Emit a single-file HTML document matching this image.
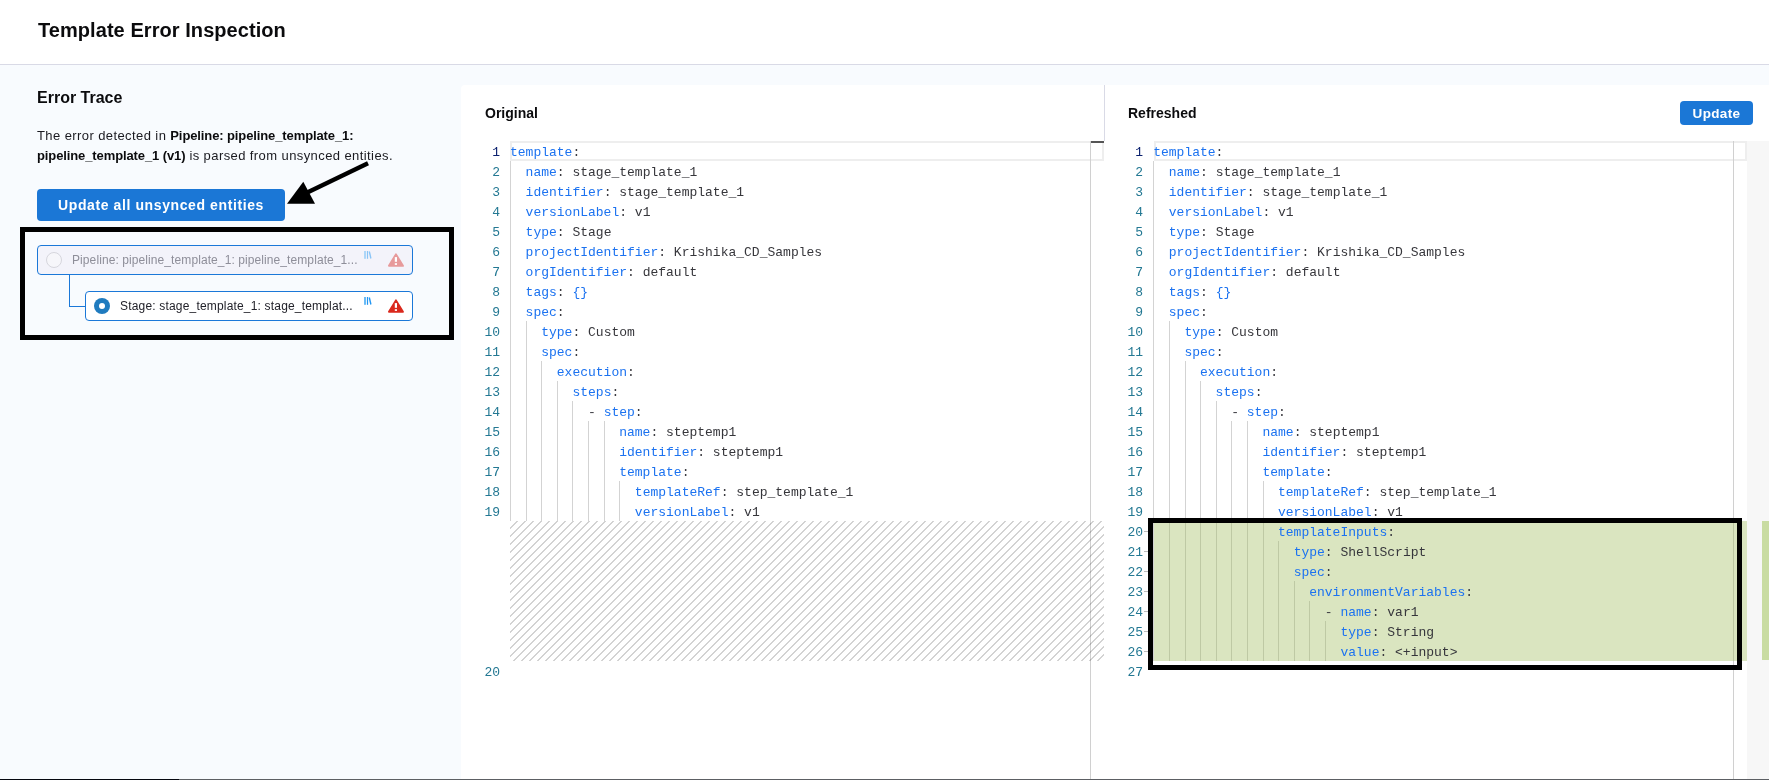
<!DOCTYPE html>
<html><head><meta charset="utf-8">
<style>
*{box-sizing:border-box;margin:0;padding:0}
html,body{width:1769px;height:780px;overflow:hidden}
body{position:relative;background:#f8fbfe;font-family:"Liberation Sans",sans-serif;color:#22222a}
.abs{position:absolute}
#hdr{position:absolute;left:0;top:0;width:1769px;height:65px;background:#fff;border-bottom:1px solid #d9dae6}
#title{position:absolute;left:38px;top:18px;font-size:20px;letter-spacing:0.06px;font-weight:bold;color:#0b0b0d;white-space:nowrap;line-height:24px}
#et{position:absolute;left:37px;top:88px;font-size:16px;font-weight:bold;color:#0b0b0d;line-height:20px;white-space:nowrap}
#desc{position:absolute;left:37px;top:126px;font-size:13px;line-height:20px;color:#1a1a20;white-space:nowrap;letter-spacing:0.41px}
#desc b{color:#0b0b0d;letter-spacing:-0.11px}
#btn1{position:absolute;left:37px;top:189px;width:248px;height:32px;background:#1b77d6;border-radius:4px;color:#fff;font-weight:bold;font-size:14px;line-height:32px;text-align:center;white-space:nowrap;letter-spacing:0.6px}
#bx1{position:absolute;left:20px;top:226.5px;width:434px;height:113px;border:5px solid #000}
.card{position:absolute;height:30px;border:1px solid #1b78d8;border-radius:4px;white-space:nowrap;font-size:12px;line-height:28px}
#c1{left:37px;top:245px;width:376px;background:#f3f3fa;color:#8e8e99}
#c2{left:85px;top:291px;width:328px;background:#fff;color:#22222a}
.conn{position:absolute;background:#1b78d8}
#pnl1{position:absolute;left:461px;top:85px;width:644px;height:695px;background:#fff;border-top-left-radius:4px}
#pnl2{position:absolute;left:1105px;top:85px;width:664px;height:695px;background:#fff}
#div{position:absolute;left:1104px;top:85px;width:1px;height:56px;background:#d9dae6}
.ph{position:absolute;top:104px;font-size:14px;font-weight:bold;color:#0b0b0d;line-height:18px;white-space:nowrap}
#btn2{position:absolute;left:1680px;top:101px;width:73px;height:24px;background:#1b77d6;border-radius:4px;color:#fff;font-weight:bold;font-size:13.5px;line-height:26px;text-align:center;letter-spacing:0.35px;overflow:hidden}
.ln{position:absolute;width:40px;text-align:right;font-family:"Liberation Mono",monospace;font-size:13px;line-height:20px;color:#237893}
.ln.act{color:#0b216f}
.cl{position:absolute;font-family:"Liberation Mono",monospace;font-size:13px;line-height:20px;white-space:pre;color:#36363b}
.k{color:#1b72f0}
.p{color:#3a3a40}
.v{color:#36363b}
.b{color:#1b72f0}
.g{position:absolute;width:1px;background:#d3d3d3}
.curl{position:absolute;top:141px;height:20px;border:2px solid #eeeeee}
.vr{position:absolute;top:141px;width:1px;height:639px;background:#d0d0d0}
#hatch{position:absolute;left:510px;top:521px;width:594px;height:140px;background:linear-gradient(-45deg,rgba(34,34,34,.2) 12.5%,#0000 12.5%,#0000 50%,rgba(34,34,34,.2) 50%,rgba(34,34,34,.2) 62.5%,#0000 62.5%,#0000 100%);background-size:8px 8px}
#green{position:absolute;left:1154px;top:521px;width:593px;height:140px;background:rgba(155,185,85,.37)}
#ovr{position:absolute;left:1747px;top:141px;width:22px;height:639px;background:#f7f7f7}
#ovg{position:absolute;left:1762px;top:521px;width:7px;height:139px;background:#c9dca2}
#bx2{position:absolute;left:1148px;top:518px;width:594px;height:152px;border:5px solid #000}
.dash{position:absolute;left:1144px;width:5px;height:1px;background:#bbb}
#botline{position:absolute;left:0;top:779px;width:1769px;height:1px;background:#5c5f63}
#botline2{position:absolute;left:0;top:779px;width:179px;height:1px;background:#05070f}
</style></head><body>
<div id="root" style="position:absolute;left:0;top:0;width:1769px;height:780px;background:#f8fbfe;will-change:transform">
<div id="hdr"></div>
<div id="title">Template Error Inspection</div>
<div id="et">Error Trace</div>
<div id="desc">The error detected in <b>Pipeline: pipeline_template_1:</b><br><b>pipeline_template_1 (v1)</b> is parsed from unsynced entities.</div>
<div id="btn1">Update all unsynced entities</div>
<svg class="abs" style="left:280px;top:155px" width="100" height="60" viewBox="280 155 100 60">
<line x1="368" y1="163.3" x2="300" y2="196" stroke="#000" stroke-width="4.3"/>
<polygon points="287,203.8 303.3,181.7 315,203.8" fill="#000"/>
</svg>
<div id="bx1"></div>
<div class="card" id="c1"><span class="abs" style="left:8px;top:6px;width:16px;height:16px;border-radius:50%;border:1px solid #d6d6dd;background:#f6f6fa"></span><span class="abs" style="left:34px;top:0;letter-spacing:0.09px">Pipeline: pipeline_template_1: pipeline_template_1...</span>
<svg class="abs" style="left:326px;top:4px;opacity:.5" width="10" height="10" viewBox="0 0 10 10"><rect x="0.1" y="1" width="1.8" height="7.8" fill="#5ab4f5"/><rect x="2.9" y="1" width="1.2" height="7.8" fill="#2196f3"/><line x1="5.3" y1="1.5" x2="6.9" y2="8.5" stroke="#2196f3" stroke-width="1.4"/></svg>
<svg class="abs" style="left:350px;top:6px" width="17" height="16" viewBox="0 0 17 16"><path d="M7.95 2.4 L14.9 13.8 L1 13.8 Z" fill="#e79a9b" stroke="#e79a9b" stroke-width="2" stroke-linejoin="round"/><rect x="6.8" y="5.1" width="2.2" height="4.7" fill="#fff"/><rect x="6.8" y="11.2" width="2.2" height="1.7" fill="#fff"/></svg>
</div>
<div class="conn" style="left:69px;top:275px;width:1px;height:32px"></div>
<div class="conn" style="left:69px;top:306px;width:16px;height:1px"></div>
<div class="card" id="c2"><span class="abs" style="left:8px;top:6px;width:16px;height:16px;border-radius:50%;background:#1f7bbf"></span><span class="abs" style="left:13px;top:11px;width:6px;height:6px;border-radius:50%;background:#fff"></span><span class="abs" style="left:34px;top:0;letter-spacing:0.18px">Stage: stage_template_1: stage_templat...</span>
<svg class="abs" style="left:278px;top:4px" width="10" height="10" viewBox="0 0 10 10"><rect x="0.1" y="1" width="1.8" height="7.8" fill="#5ab4f5"/><rect x="2.9" y="1" width="1.2" height="7.8" fill="#2196f3"/><line x1="5.3" y1="1.5" x2="6.9" y2="8.5" stroke="#2196f3" stroke-width="1.4"/></svg>
<svg class="abs" style="left:302px;top:6px" width="17" height="16" viewBox="0 0 17 16"><path d="M7.95 2.4 L14.9 13.8 L1 13.8 Z" fill="#da291d" stroke="#da291d" stroke-width="2" stroke-linejoin="round"/><rect x="6.8" y="5.1" width="2.2" height="4.7" fill="#fff"/><rect x="6.8" y="11.2" width="2.2" height="1.7" fill="#fff"/></svg>
</div>

<div id="pnl1"></div>
<div id="pnl2"></div>
<div id="div"></div>
<div class="ph" style="left:485px">Original</div>
<div class="ph" style="left:1128px">Refreshed</div>
<div id="btn2">Update</div>

<!-- original editor -->
<div class="curl" style="left:510px;width:594px"></div>
<div class="vr" style="left:1090px"></div>
<div class="abs" style="left:1091px;top:141px;width:13px;height:2px;background:#555"></div>
<div class="g" style="left:510.0px;top:161px;height:360px"></div>
<div class="g" style="left:525.6px;top:321px;height:200px"></div>
<div class="g" style="left:541.2px;top:361px;height:160px"></div>
<div class="g" style="left:556.8px;top:381px;height:140px"></div>
<div class="g" style="left:572.4px;top:401px;height:120px"></div>
<div class="g" style="left:588.0px;top:421px;height:100px"></div>
<div class="g" style="left:603.6px;top:421px;height:100px"></div>
<div class="g" style="left:619.2px;top:481px;height:40px"></div>
<div id="hatch"></div>
<div class="ln act" style="top:143px;left:460px">1</div>
<div class="cl" style="top:143px;left:510.0px"><span class="k">template</span><span class="p">:</span></div>
<div class="ln" style="top:163px;left:460px">2</div>
<div class="cl" style="top:163px;left:510.0px">&nbsp;&nbsp;<span class="k">name</span><span class="p">:</span> <span class="v">stage_template_1</span></div>
<div class="ln" style="top:183px;left:460px">3</div>
<div class="cl" style="top:183px;left:510.0px">&nbsp;&nbsp;<span class="k">identifier</span><span class="p">:</span> <span class="v">stage_template_1</span></div>
<div class="ln" style="top:203px;left:460px">4</div>
<div class="cl" style="top:203px;left:510.0px">&nbsp;&nbsp;<span class="k">versionLabel</span><span class="p">:</span> <span class="v">v1</span></div>
<div class="ln" style="top:223px;left:460px">5</div>
<div class="cl" style="top:223px;left:510.0px">&nbsp;&nbsp;<span class="k">type</span><span class="p">:</span> <span class="v">Stage</span></div>
<div class="ln" style="top:243px;left:460px">6</div>
<div class="cl" style="top:243px;left:510.0px">&nbsp;&nbsp;<span class="k">projectIdentifier</span><span class="p">:</span> <span class="v">Krishika_CD_Samples</span></div>
<div class="ln" style="top:263px;left:460px">7</div>
<div class="cl" style="top:263px;left:510.0px">&nbsp;&nbsp;<span class="k">orgIdentifier</span><span class="p">:</span> <span class="v">default</span></div>
<div class="ln" style="top:283px;left:460px">8</div>
<div class="cl" style="top:283px;left:510.0px">&nbsp;&nbsp;<span class="k">tags</span><span class="p">:</span> <span class="b">{}</span></div>
<div class="ln" style="top:303px;left:460px">9</div>
<div class="cl" style="top:303px;left:510.0px">&nbsp;&nbsp;<span class="k">spec</span><span class="p">:</span></div>
<div class="ln" style="top:323px;left:460px">10</div>
<div class="cl" style="top:323px;left:510.0px">&nbsp;&nbsp;&nbsp;&nbsp;<span class="k">type</span><span class="p">:</span> <span class="v">Custom</span></div>
<div class="ln" style="top:343px;left:460px">11</div>
<div class="cl" style="top:343px;left:510.0px">&nbsp;&nbsp;&nbsp;&nbsp;<span class="k">spec</span><span class="p">:</span></div>
<div class="ln" style="top:363px;left:460px">12</div>
<div class="cl" style="top:363px;left:510.0px">&nbsp;&nbsp;&nbsp;&nbsp;&nbsp;&nbsp;<span class="k">execution</span><span class="p">:</span></div>
<div class="ln" style="top:383px;left:460px">13</div>
<div class="cl" style="top:383px;left:510.0px">&nbsp;&nbsp;&nbsp;&nbsp;&nbsp;&nbsp;&nbsp;&nbsp;<span class="k">steps</span><span class="p">:</span></div>
<div class="ln" style="top:403px;left:460px">14</div>
<div class="cl" style="top:403px;left:510.0px">&nbsp;&nbsp;&nbsp;&nbsp;&nbsp;&nbsp;&nbsp;&nbsp;&nbsp;&nbsp;<span class="p">- </span><span class="k">step</span><span class="p">:</span></div>
<div class="ln" style="top:423px;left:460px">15</div>
<div class="cl" style="top:423px;left:510.0px">&nbsp;&nbsp;&nbsp;&nbsp;&nbsp;&nbsp;&nbsp;&nbsp;&nbsp;&nbsp;&nbsp;&nbsp;&nbsp;&nbsp;<span class="k">name</span><span class="p">:</span> <span class="v">steptemp1</span></div>
<div class="ln" style="top:443px;left:460px">16</div>
<div class="cl" style="top:443px;left:510.0px">&nbsp;&nbsp;&nbsp;&nbsp;&nbsp;&nbsp;&nbsp;&nbsp;&nbsp;&nbsp;&nbsp;&nbsp;&nbsp;&nbsp;<span class="k">identifier</span><span class="p">:</span> <span class="v">steptemp1</span></div>
<div class="ln" style="top:463px;left:460px">17</div>
<div class="cl" style="top:463px;left:510.0px">&nbsp;&nbsp;&nbsp;&nbsp;&nbsp;&nbsp;&nbsp;&nbsp;&nbsp;&nbsp;&nbsp;&nbsp;&nbsp;&nbsp;<span class="k">template</span><span class="p">:</span></div>
<div class="ln" style="top:483px;left:460px">18</div>
<div class="cl" style="top:483px;left:510.0px">&nbsp;&nbsp;&nbsp;&nbsp;&nbsp;&nbsp;&nbsp;&nbsp;&nbsp;&nbsp;&nbsp;&nbsp;&nbsp;&nbsp;&nbsp;&nbsp;<span class="k">templateRef</span><span class="p">:</span> <span class="v">step_template_1</span></div>
<div class="ln" style="top:503px;left:460px">19</div>
<div class="cl" style="top:503px;left:510.0px">&nbsp;&nbsp;&nbsp;&nbsp;&nbsp;&nbsp;&nbsp;&nbsp;&nbsp;&nbsp;&nbsp;&nbsp;&nbsp;&nbsp;&nbsp;&nbsp;<span class="k">versionLabel</span><span class="p">:</span> <span class="v">v1</span></div>
<div class="ln" style="top:663px;left:460px">20</div>

<!-- refreshed editor -->
<div id="ovr"></div>
<div class="curl" style="left:1154px;width:593px"></div>
<div class="vr" style="left:1733px"></div>
<div class="g" style="left:1153.4px;top:161px;height:500px"></div>
<div class="g" style="left:1169.0px;top:321px;height:340px"></div>
<div class="g" style="left:1184.6px;top:361px;height:300px"></div>
<div class="g" style="left:1200.2px;top:381px;height:280px"></div>
<div class="g" style="left:1215.8px;top:401px;height:260px"></div>
<div class="g" style="left:1231.4px;top:421px;height:240px"></div>
<div class="g" style="left:1247.0px;top:421px;height:240px"></div>
<div class="g" style="left:1262.6px;top:481px;height:180px"></div>
<div class="g" style="left:1278.2px;top:541px;height:120px"></div>
<div class="g" style="left:1293.8px;top:581px;height:80px"></div>
<div class="g" style="left:1309.4px;top:601px;height:60px"></div>
<div class="g" style="left:1325.0px;top:621px;height:40px"></div>
<div id="green"></div>
<div class="ln act" style="top:143px;left:1103px">1</div>
<div class="cl" style="top:143px;left:1153.2px"><span class="k">template</span><span class="p">:</span></div>
<div class="ln" style="top:163px;left:1103px">2</div>
<div class="cl" style="top:163px;left:1153.2px">&nbsp;&nbsp;<span class="k">name</span><span class="p">:</span> <span class="v">stage_template_1</span></div>
<div class="ln" style="top:183px;left:1103px">3</div>
<div class="cl" style="top:183px;left:1153.2px">&nbsp;&nbsp;<span class="k">identifier</span><span class="p">:</span> <span class="v">stage_template_1</span></div>
<div class="ln" style="top:203px;left:1103px">4</div>
<div class="cl" style="top:203px;left:1153.2px">&nbsp;&nbsp;<span class="k">versionLabel</span><span class="p">:</span> <span class="v">v1</span></div>
<div class="ln" style="top:223px;left:1103px">5</div>
<div class="cl" style="top:223px;left:1153.2px">&nbsp;&nbsp;<span class="k">type</span><span class="p">:</span> <span class="v">Stage</span></div>
<div class="ln" style="top:243px;left:1103px">6</div>
<div class="cl" style="top:243px;left:1153.2px">&nbsp;&nbsp;<span class="k">projectIdentifier</span><span class="p">:</span> <span class="v">Krishika_CD_Samples</span></div>
<div class="ln" style="top:263px;left:1103px">7</div>
<div class="cl" style="top:263px;left:1153.2px">&nbsp;&nbsp;<span class="k">orgIdentifier</span><span class="p">:</span> <span class="v">default</span></div>
<div class="ln" style="top:283px;left:1103px">8</div>
<div class="cl" style="top:283px;left:1153.2px">&nbsp;&nbsp;<span class="k">tags</span><span class="p">:</span> <span class="b">{}</span></div>
<div class="ln" style="top:303px;left:1103px">9</div>
<div class="cl" style="top:303px;left:1153.2px">&nbsp;&nbsp;<span class="k">spec</span><span class="p">:</span></div>
<div class="ln" style="top:323px;left:1103px">10</div>
<div class="cl" style="top:323px;left:1153.2px">&nbsp;&nbsp;&nbsp;&nbsp;<span class="k">type</span><span class="p">:</span> <span class="v">Custom</span></div>
<div class="ln" style="top:343px;left:1103px">11</div>
<div class="cl" style="top:343px;left:1153.2px">&nbsp;&nbsp;&nbsp;&nbsp;<span class="k">spec</span><span class="p">:</span></div>
<div class="ln" style="top:363px;left:1103px">12</div>
<div class="cl" style="top:363px;left:1153.2px">&nbsp;&nbsp;&nbsp;&nbsp;&nbsp;&nbsp;<span class="k">execution</span><span class="p">:</span></div>
<div class="ln" style="top:383px;left:1103px">13</div>
<div class="cl" style="top:383px;left:1153.2px">&nbsp;&nbsp;&nbsp;&nbsp;&nbsp;&nbsp;&nbsp;&nbsp;<span class="k">steps</span><span class="p">:</span></div>
<div class="ln" style="top:403px;left:1103px">14</div>
<div class="cl" style="top:403px;left:1153.2px">&nbsp;&nbsp;&nbsp;&nbsp;&nbsp;&nbsp;&nbsp;&nbsp;&nbsp;&nbsp;<span class="p">- </span><span class="k">step</span><span class="p">:</span></div>
<div class="ln" style="top:423px;left:1103px">15</div>
<div class="cl" style="top:423px;left:1153.2px">&nbsp;&nbsp;&nbsp;&nbsp;&nbsp;&nbsp;&nbsp;&nbsp;&nbsp;&nbsp;&nbsp;&nbsp;&nbsp;&nbsp;<span class="k">name</span><span class="p">:</span> <span class="v">steptemp1</span></div>
<div class="ln" style="top:443px;left:1103px">16</div>
<div class="cl" style="top:443px;left:1153.2px">&nbsp;&nbsp;&nbsp;&nbsp;&nbsp;&nbsp;&nbsp;&nbsp;&nbsp;&nbsp;&nbsp;&nbsp;&nbsp;&nbsp;<span class="k">identifier</span><span class="p">:</span> <span class="v">steptemp1</span></div>
<div class="ln" style="top:463px;left:1103px">17</div>
<div class="cl" style="top:463px;left:1153.2px">&nbsp;&nbsp;&nbsp;&nbsp;&nbsp;&nbsp;&nbsp;&nbsp;&nbsp;&nbsp;&nbsp;&nbsp;&nbsp;&nbsp;<span class="k">template</span><span class="p">:</span></div>
<div class="ln" style="top:483px;left:1103px">18</div>
<div class="cl" style="top:483px;left:1153.2px">&nbsp;&nbsp;&nbsp;&nbsp;&nbsp;&nbsp;&nbsp;&nbsp;&nbsp;&nbsp;&nbsp;&nbsp;&nbsp;&nbsp;&nbsp;&nbsp;<span class="k">templateRef</span><span class="p">:</span> <span class="v">step_template_1</span></div>
<div class="ln" style="top:503px;left:1103px">19</div>
<div class="cl" style="top:503px;left:1153.2px">&nbsp;&nbsp;&nbsp;&nbsp;&nbsp;&nbsp;&nbsp;&nbsp;&nbsp;&nbsp;&nbsp;&nbsp;&nbsp;&nbsp;&nbsp;&nbsp;<span class="k">versionLabel</span><span class="p">:</span> <span class="v">v1</span></div>
<div class="ln" style="top:523px;left:1103px">20</div>
<div class="cl" style="top:523px;left:1153.2px">&nbsp;&nbsp;&nbsp;&nbsp;&nbsp;&nbsp;&nbsp;&nbsp;&nbsp;&nbsp;&nbsp;&nbsp;&nbsp;&nbsp;&nbsp;&nbsp;<span class="k">templateInputs</span><span class="p">:</span></div>
<div class="ln" style="top:543px;left:1103px">21</div>
<div class="cl" style="top:543px;left:1153.2px">&nbsp;&nbsp;&nbsp;&nbsp;&nbsp;&nbsp;&nbsp;&nbsp;&nbsp;&nbsp;&nbsp;&nbsp;&nbsp;&nbsp;&nbsp;&nbsp;&nbsp;&nbsp;<span class="k">type</span><span class="p">:</span> <span class="v">ShellScript</span></div>
<div class="ln" style="top:563px;left:1103px">22</div>
<div class="cl" style="top:563px;left:1153.2px">&nbsp;&nbsp;&nbsp;&nbsp;&nbsp;&nbsp;&nbsp;&nbsp;&nbsp;&nbsp;&nbsp;&nbsp;&nbsp;&nbsp;&nbsp;&nbsp;&nbsp;&nbsp;<span class="k">spec</span><span class="p">:</span></div>
<div class="ln" style="top:583px;left:1103px">23</div>
<div class="cl" style="top:583px;left:1153.2px">&nbsp;&nbsp;&nbsp;&nbsp;&nbsp;&nbsp;&nbsp;&nbsp;&nbsp;&nbsp;&nbsp;&nbsp;&nbsp;&nbsp;&nbsp;&nbsp;&nbsp;&nbsp;&nbsp;&nbsp;<span class="k">environmentVariables</span><span class="p">:</span></div>
<div class="ln" style="top:603px;left:1103px">24</div>
<div class="cl" style="top:603px;left:1153.2px">&nbsp;&nbsp;&nbsp;&nbsp;&nbsp;&nbsp;&nbsp;&nbsp;&nbsp;&nbsp;&nbsp;&nbsp;&nbsp;&nbsp;&nbsp;&nbsp;&nbsp;&nbsp;&nbsp;&nbsp;&nbsp;&nbsp;<span class="p">- </span><span class="k">name</span><span class="p">:</span> <span class="v">var1</span></div>
<div class="ln" style="top:623px;left:1103px">25</div>
<div class="cl" style="top:623px;left:1153.2px">&nbsp;&nbsp;&nbsp;&nbsp;&nbsp;&nbsp;&nbsp;&nbsp;&nbsp;&nbsp;&nbsp;&nbsp;&nbsp;&nbsp;&nbsp;&nbsp;&nbsp;&nbsp;&nbsp;&nbsp;&nbsp;&nbsp;&nbsp;&nbsp;<span class="k">type</span><span class="p">:</span> <span class="v">String</span></div>
<div class="ln" style="top:643px;left:1103px">26</div>
<div class="cl" style="top:643px;left:1153.2px">&nbsp;&nbsp;&nbsp;&nbsp;&nbsp;&nbsp;&nbsp;&nbsp;&nbsp;&nbsp;&nbsp;&nbsp;&nbsp;&nbsp;&nbsp;&nbsp;&nbsp;&nbsp;&nbsp;&nbsp;&nbsp;&nbsp;&nbsp;&nbsp;<span class="k">value</span><span class="p">:</span> <span class="v">&lt;+input&gt;</span></div>
<div class="ln" style="top:663px;left:1103px">27</div>
<div class="dash" style="top:531px"></div>
<div class="dash" style="top:551px"></div>
<div class="dash" style="top:571px"></div>
<div class="dash" style="top:591px"></div>
<div class="dash" style="top:611px"></div>
<div class="dash" style="top:631px"></div>
<div class="dash" style="top:651px"></div>
<div id="ovg"></div>
<div id="bx2"></div>
<div id="botline"></div><div id="botline2"></div>
</div>
</body></html>
